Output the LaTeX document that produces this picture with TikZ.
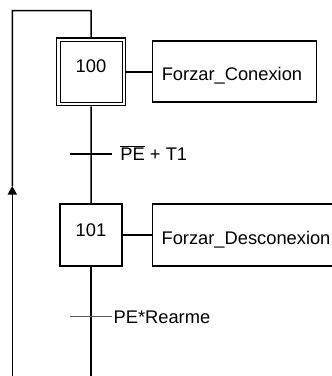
\documentclass[tikz,border=0pt]{standalone}
\usepackage{fontspec}
\setmainfont{Liberation Sans}
\usetikzlibrary{arrows.meta}
\begin{document}
\begin{tikzpicture}[x=1pt,y=-1pt,
  every node/.style={font=\fontsize{18.3}{22}\selectfont},
  ln/.style={line width=1.5pt,black},
  stepbox/.style={draw,line width=1.5pt,minimum width=62pt,minimum height=62pt,inner sep=0pt,outer sep=0.75pt},
  initbox/.style={draw,line width=1.3pt,double,double distance=2.1pt,minimum width=65.5pt,minimum height=64.4pt,inner sep=0pt,outer sep=2.35pt},
  actbox/.style={draw,line width=1.5pt,inner sep=0pt,outer sep=0.75pt},
  txt/.style={inner sep=0pt,outer sep=0pt},
  trbar/.style={line width=1.5pt},
]
\useasboundingbox (0,0) rectangle (332,376);
\clip (0,0) rectangle (332,376);
% steps
\node[initbox] (s100) at (91.2,71.8) {};
\node[txt,anchor=base] (t100) at (91,72.7) {100};
\node[stepbox] (s101) at (91,235) {};
\node[txt,anchor=base] (t101) at (91,236.3) {101};
% actions
\node[actbox,minimum width=164.4pt,minimum height=61pt] (a100) at (234.5,71.5) {};
\node[txt,anchor=base west] (ta100) at (161.8,80.7) {Forzar\_Conexion};
\node[actbox,minimum width=193pt,minimum height=62pt] (a101) at (248.8,235) {};
\node[txt,anchor=base west] (ta101) at (161.6,244) {Forzar\_Desconexion};
\draw[ln] (s100.east) -- (s100.east -| a100.west);
\draw[ln] (s101.east) -- (s101.east -| a101.west);
% links
\coordinate (tr1) at (91,154);
\coordinate (tr2) at (91,316.7);
\coordinate (bot) at (91,380);
\coordinate (lbot) at (12.3,380);
\coordinate (ltip) at (12.3,186);
\coordinate (ltop) at (12.3,10.7);
\coordinate (rtop) at (91,10.7);
\draw[ln] (s100.south) -- (s101.north);
\draw[ln] (s101.south) -- (bot);
\draw[ln,-{Triangle[width=9pt,length=8.5pt]}] (lbot) -- (ltip);
\draw[ln] (ltip) -- (ltop) -- (rtop) -- (s100.north);
% transitions
\draw[trbar,black] ([xshift=-21pt]tr1) -- ([xshift=21pt]tr1);
\draw[trbar,black!65] ([xshift=-21pt]tr2) -- ([xshift=21pt]tr2);
\node[txt,anchor=base west] (c1) at (120.5,160) {$\overline{\hbox{PE}}$ + T1};
\node[txt,anchor=base west] (c2) at (113.6,323) {PE*Rearme};
\end{tikzpicture}
\end{document}
